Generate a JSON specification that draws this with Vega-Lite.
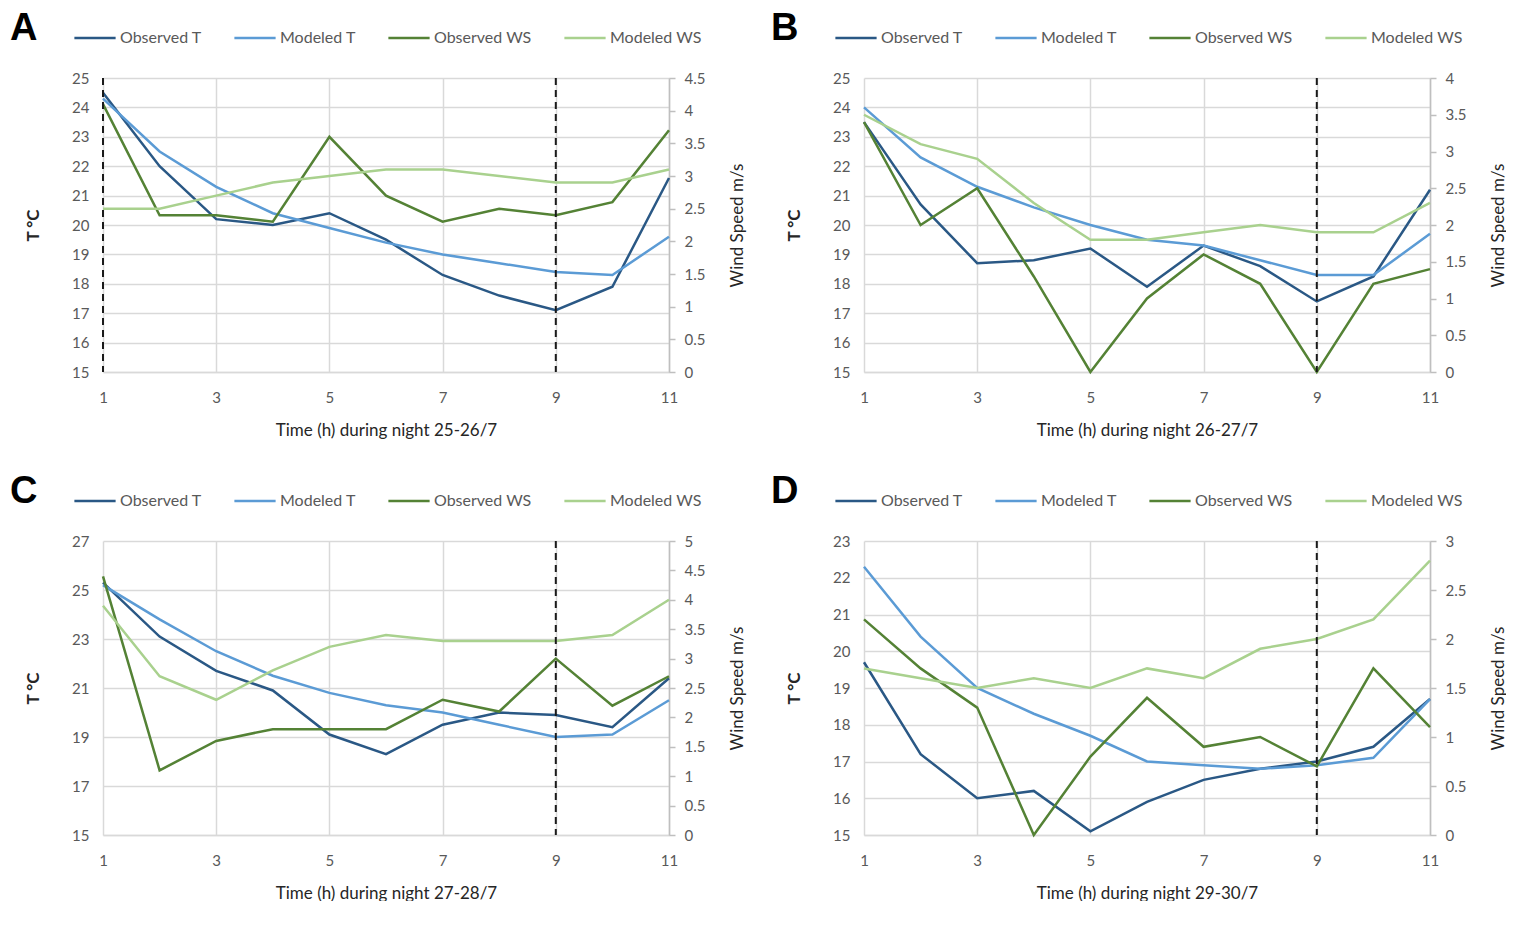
{
  "$schema": "https://vega.github.io/schema/vega-lite/v6.json",
  "padding": {"left": 10, "top": 10, "right": 0, "bottom": 0},
  "background": "white",
  "datasets": {
    "lines": [
      {"p":"A","s":"Observed T","h":1,"v":24.5},{"p":"A","s":"Observed T","h":2,"v":22.0},{"p":"A","s":"Observed T","h":3,"v":20.2},{"p":"A","s":"Observed T","h":4,"v":20.0},{"p":"A","s":"Observed T","h":5,"v":20.4},{"p":"A","s":"Observed T","h":6,"v":19.5},{"p":"A","s":"Observed T","h":7,"v":18.3},{"p":"A","s":"Observed T","h":8,"v":17.6},{"p":"A","s":"Observed T","h":9,"v":17.1},{"p":"A","s":"Observed T","h":10,"v":17.9},{"p":"A","s":"Observed T","h":11,"v":21.6},
      {"p":"A","s":"Modeled T","h":1,"v":24.3},{"p":"A","s":"Modeled T","h":2,"v":22.5},{"p":"A","s":"Modeled T","h":3,"v":21.3},{"p":"A","s":"Modeled T","h":4,"v":20.4},{"p":"A","s":"Modeled T","h":5,"v":19.9},{"p":"A","s":"Modeled T","h":6,"v":19.4},{"p":"A","s":"Modeled T","h":7,"v":19.0},{"p":"A","s":"Modeled T","h":8,"v":18.7},{"p":"A","s":"Modeled T","h":9,"v":18.4},{"p":"A","s":"Modeled T","h":10,"v":18.3},{"p":"A","s":"Modeled T","h":11,"v":19.6},
      {"p":"A","s":"Observed WS","h":1,"v":4.1},{"p":"A","s":"Observed WS","h":2,"v":2.4},{"p":"A","s":"Observed WS","h":3,"v":2.4},{"p":"A","s":"Observed WS","h":4,"v":2.3},{"p":"A","s":"Observed WS","h":5,"v":3.6},{"p":"A","s":"Observed WS","h":6,"v":2.7},{"p":"A","s":"Observed WS","h":7,"v":2.3},{"p":"A","s":"Observed WS","h":8,"v":2.5},{"p":"A","s":"Observed WS","h":9,"v":2.4},{"p":"A","s":"Observed WS","h":10,"v":2.6},{"p":"A","s":"Observed WS","h":11,"v":3.7},
      {"p":"A","s":"Modeled WS","h":1,"v":2.5},{"p":"A","s":"Modeled WS","h":2,"v":2.5},{"p":"A","s":"Modeled WS","h":3,"v":2.7},{"p":"A","s":"Modeled WS","h":4,"v":2.9},{"p":"A","s":"Modeled WS","h":5,"v":3.0},{"p":"A","s":"Modeled WS","h":6,"v":3.1},{"p":"A","s":"Modeled WS","h":7,"v":3.1},{"p":"A","s":"Modeled WS","h":8,"v":3.0},{"p":"A","s":"Modeled WS","h":9,"v":2.9},{"p":"A","s":"Modeled WS","h":10,"v":2.9},{"p":"A","s":"Modeled WS","h":11,"v":3.1},
      {"p":"B","s":"Observed T","h":1,"v":23.5},{"p":"B","s":"Observed T","h":2,"v":20.7},{"p":"B","s":"Observed T","h":3,"v":18.7},{"p":"B","s":"Observed T","h":4,"v":18.8},{"p":"B","s":"Observed T","h":5,"v":19.2},{"p":"B","s":"Observed T","h":6,"v":17.9},{"p":"B","s":"Observed T","h":7,"v":19.3},{"p":"B","s":"Observed T","h":8,"v":18.6},{"p":"B","s":"Observed T","h":9,"v":17.4},{"p":"B","s":"Observed T","h":10,"v":18.25},{"p":"B","s":"Observed T","h":11,"v":21.2},
      {"p":"B","s":"Modeled T","h":1,"v":24.0},{"p":"B","s":"Modeled T","h":2,"v":22.3},{"p":"B","s":"Modeled T","h":3,"v":21.3},{"p":"B","s":"Modeled T","h":4,"v":20.6},{"p":"B","s":"Modeled T","h":5,"v":20.0},{"p":"B","s":"Modeled T","h":6,"v":19.5},{"p":"B","s":"Modeled T","h":7,"v":19.3},{"p":"B","s":"Modeled T","h":8,"v":18.8},{"p":"B","s":"Modeled T","h":9,"v":18.3},{"p":"B","s":"Modeled T","h":10,"v":18.3},{"p":"B","s":"Modeled T","h":11,"v":19.7},
      {"p":"B","s":"Observed WS","h":1,"v":3.4},{"p":"B","s":"Observed WS","h":2,"v":2.0},{"p":"B","s":"Observed WS","h":3,"v":2.5},{"p":"B","s":"Observed WS","h":4,"v":1.3},{"p":"B","s":"Observed WS","h":5,"v":0.0},{"p":"B","s":"Observed WS","h":6,"v":1.0},{"p":"B","s":"Observed WS","h":7,"v":1.6},{"p":"B","s":"Observed WS","h":8,"v":1.2},{"p":"B","s":"Observed WS","h":9,"v":0.0},{"p":"B","s":"Observed WS","h":10,"v":1.2},{"p":"B","s":"Observed WS","h":11,"v":1.4},
      {"p":"B","s":"Modeled WS","h":1,"v":3.5},{"p":"B","s":"Modeled WS","h":2,"v":3.1},{"p":"B","s":"Modeled WS","h":3,"v":2.9},{"p":"B","s":"Modeled WS","h":4,"v":2.3},{"p":"B","s":"Modeled WS","h":5,"v":1.8},{"p":"B","s":"Modeled WS","h":6,"v":1.8},{"p":"B","s":"Modeled WS","h":7,"v":1.9},{"p":"B","s":"Modeled WS","h":8,"v":2.0},{"p":"B","s":"Modeled WS","h":9,"v":1.9},{"p":"B","s":"Modeled WS","h":10,"v":1.9},{"p":"B","s":"Modeled WS","h":11,"v":2.3},
      {"p":"C","s":"Observed T","h":1,"v":25.3},{"p":"C","s":"Observed T","h":2,"v":23.1},{"p":"C","s":"Observed T","h":3,"v":21.7},{"p":"C","s":"Observed T","h":4,"v":20.9},{"p":"C","s":"Observed T","h":5,"v":19.1},{"p":"C","s":"Observed T","h":6,"v":18.3},{"p":"C","s":"Observed T","h":7,"v":19.5},{"p":"C","s":"Observed T","h":8,"v":20.0},{"p":"C","s":"Observed T","h":9,"v":19.9},{"p":"C","s":"Observed T","h":10,"v":19.4},{"p":"C","s":"Observed T","h":11,"v":21.4},
      {"p":"C","s":"Modeled T","h":1,"v":25.2},{"p":"C","s":"Modeled T","h":2,"v":23.8},{"p":"C","s":"Modeled T","h":3,"v":22.5},{"p":"C","s":"Modeled T","h":4,"v":21.5},{"p":"C","s":"Modeled T","h":5,"v":20.8},{"p":"C","s":"Modeled T","h":6,"v":20.3},{"p":"C","s":"Modeled T","h":7,"v":20.0},{"p":"C","s":"Modeled T","h":8,"v":19.5},{"p":"C","s":"Modeled T","h":9,"v":19.0},{"p":"C","s":"Modeled T","h":10,"v":19.1},{"p":"C","s":"Modeled T","h":11,"v":20.5},
      {"p":"C","s":"Observed WS","h":1,"v":4.4},{"p":"C","s":"Observed WS","h":2,"v":1.1},{"p":"C","s":"Observed WS","h":3,"v":1.6},{"p":"C","s":"Observed WS","h":4,"v":1.8},{"p":"C","s":"Observed WS","h":5,"v":1.8},{"p":"C","s":"Observed WS","h":6,"v":1.8},{"p":"C","s":"Observed WS","h":7,"v":2.3},{"p":"C","s":"Observed WS","h":8,"v":2.1},{"p":"C","s":"Observed WS","h":9,"v":3.0},{"p":"C","s":"Observed WS","h":10,"v":2.2},{"p":"C","s":"Observed WS","h":11,"v":2.7},
      {"p":"C","s":"Modeled WS","h":1,"v":3.9},{"p":"C","s":"Modeled WS","h":2,"v":2.7},{"p":"C","s":"Modeled WS","h":3,"v":2.3},{"p":"C","s":"Modeled WS","h":4,"v":2.8},{"p":"C","s":"Modeled WS","h":5,"v":3.2},{"p":"C","s":"Modeled WS","h":6,"v":3.4},{"p":"C","s":"Modeled WS","h":7,"v":3.3},{"p":"C","s":"Modeled WS","h":8,"v":3.3},{"p":"C","s":"Modeled WS","h":9,"v":3.3},{"p":"C","s":"Modeled WS","h":10,"v":3.4},{"p":"C","s":"Modeled WS","h":11,"v":4.0},
      {"p":"D","s":"Observed T","h":1,"v":19.7},{"p":"D","s":"Observed T","h":2,"v":17.2},{"p":"D","s":"Observed T","h":3,"v":16.0},{"p":"D","s":"Observed T","h":4,"v":16.2},{"p":"D","s":"Observed T","h":5,"v":15.1},{"p":"D","s":"Observed T","h":6,"v":15.9},{"p":"D","s":"Observed T","h":7,"v":16.5},{"p":"D","s":"Observed T","h":8,"v":16.8},{"p":"D","s":"Observed T","h":9,"v":17.0},{"p":"D","s":"Observed T","h":10,"v":17.4},{"p":"D","s":"Observed T","h":11,"v":18.7},
      {"p":"D","s":"Modeled T","h":1,"v":22.3},{"p":"D","s":"Modeled T","h":2,"v":20.4},{"p":"D","s":"Modeled T","h":3,"v":19.0},{"p":"D","s":"Modeled T","h":4,"v":18.3},{"p":"D","s":"Modeled T","h":5,"v":17.7},{"p":"D","s":"Modeled T","h":6,"v":17.0},{"p":"D","s":"Modeled T","h":7,"v":16.9},{"p":"D","s":"Modeled T","h":8,"v":16.8},{"p":"D","s":"Modeled T","h":9,"v":16.9},{"p":"D","s":"Modeled T","h":10,"v":17.1},{"p":"D","s":"Modeled T","h":11,"v":18.7},
      {"p":"D","s":"Observed WS","h":1,"v":2.2},{"p":"D","s":"Observed WS","h":2,"v":1.7},{"p":"D","s":"Observed WS","h":3,"v":1.3},{"p":"D","s":"Observed WS","h":4,"v":0.0},{"p":"D","s":"Observed WS","h":5,"v":0.8},{"p":"D","s":"Observed WS","h":6,"v":1.4},{"p":"D","s":"Observed WS","h":7,"v":0.9},{"p":"D","s":"Observed WS","h":8,"v":1.0},{"p":"D","s":"Observed WS","h":9,"v":0.7},{"p":"D","s":"Observed WS","h":10,"v":1.7},{"p":"D","s":"Observed WS","h":11,"v":1.1},
      {"p":"D","s":"Modeled WS","h":1,"v":1.7},{"p":"D","s":"Modeled WS","h":2,"v":1.6},{"p":"D","s":"Modeled WS","h":3,"v":1.5},{"p":"D","s":"Modeled WS","h":4,"v":1.6},{"p":"D","s":"Modeled WS","h":5,"v":1.5},{"p":"D","s":"Modeled WS","h":6,"v":1.7},{"p":"D","s":"Modeled WS","h":7,"v":1.6},{"p":"D","s":"Modeled WS","h":8,"v":1.9},{"p":"D","s":"Modeled WS","h":9,"v":2.0},{"p":"D","s":"Modeled WS","h":10,"v":2.2},{"p":"D","s":"Modeled WS","h":11,"v":2.8}
    ],
    "rules": [
      {"p":"A","h":1},{"p":"A","h":9},{"p":"B","h":9},{"p":"C","h":9},{"p":"D","h":9}
    ]
  },
  "concat": [
    {
      "width": 566, "height": 294,
      "title": {"text": "A"},
      "layer": [
        {"data": {"name": "lines"},
         "transform": [{"filter": "datum.p == 'A' && (datum.s == 'Observed T' || datum.s == 'Modeled T')"}],
         "mark": {"type": "line", "strokeWidth": 2.5},
         "encoding": {
           "x": {"field": "h", "type": "quantitative", "scale": {"domain": [1, 11], "nice": false}, "axis": {"values": [1,3,5,7,9,11], "title": "Time (h) during night 25-26/7"}},
           "y": {"field": "v", "type": "quantitative", "scale": {"domain": [15, 25], "nice": false, "zero": false}, "axis": {"orient": "left", "values": [15,16,17,18,19,20,21,22,23,24,25], "title": "T °C"}},
           "color": {"field": "s", "type": "nominal", "scale": {"domain": ["Observed T","Modeled T","Observed WS","Modeled WS"], "range": ["#2A5885","#5B9BD5","#548235","#A9D18E"]}, "legend": {"title": null}}
         }},
        {"data": {"name": "lines"},
         "transform": [{"filter": "datum.p == 'A' && (datum.s == 'Observed WS' || datum.s == 'Modeled WS')"}],
         "mark": {"type": "line", "strokeWidth": 2.5},
         "encoding": {
           "x": {"field": "h", "type": "quantitative"},
           "y": {"field": "v", "type": "quantitative", "scale": {"domain": [0, 4.5], "nice": false}, "axis": {"orient": "right", "values": [0,0.5,1,1.5,2,2.5,3,3.5,4,4.5], "title": "Wind Speed m/s"}},
           "color": {"field": "s", "type": "nominal"}
         }},
        {"data": {"name": "rules"},
         "transform": [{"filter": "datum.p == 'A'"}],
         "mark": {"type": "rule", "color": "#1a1a1a", "strokeWidth": 2, "strokeDash": [7, 5]},
         "encoding": {"x": {"field": "h", "type": "quantitative"}}}
      ],
      "resolve": {"scale": {"y": "independent"}}
    },
    {
      "width": 566, "height": 294,
      "title": {"text": "B"},
      "layer": [
        {"data": {"name": "lines"},
         "transform": [{"filter": "datum.p == 'B' && (datum.s == 'Observed T' || datum.s == 'Modeled T')"}],
         "mark": {"type": "line", "strokeWidth": 2.5},
         "encoding": {
           "x": {"field": "h", "type": "quantitative", "scale": {"domain": [1, 11], "nice": false}, "axis": {"values": [1,3,5,7,9,11], "title": "Time (h) during night 26-27/7"}},
           "y": {"field": "v", "type": "quantitative", "scale": {"domain": [15, 25], "nice": false, "zero": false}, "axis": {"orient": "left", "values": [15,16,17,18,19,20,21,22,23,24,25], "title": "T °C"}},
           "color": {"field": "s", "type": "nominal", "scale": {"domain": ["Observed T","Modeled T","Observed WS","Modeled WS"], "range": ["#2A5885","#5B9BD5","#548235","#A9D18E"]}, "legend": {"title": null}}
         }},
        {"data": {"name": "lines"},
         "transform": [{"filter": "datum.p == 'B' && (datum.s == 'Observed WS' || datum.s == 'Modeled WS')"}],
         "mark": {"type": "line", "strokeWidth": 2.5},
         "encoding": {
           "x": {"field": "h", "type": "quantitative"},
           "y": {"field": "v", "type": "quantitative", "scale": {"domain": [0, 4], "nice": false}, "axis": {"orient": "right", "values": [0,0.5,1,1.5,2,2.5,3,3.5,4], "title": "Wind Speed m/s"}},
           "color": {"field": "s", "type": "nominal"}
         }},
        {"data": {"name": "rules"},
         "transform": [{"filter": "datum.p == 'B'"}],
         "mark": {"type": "rule", "color": "#1a1a1a", "strokeWidth": 2, "strokeDash": [7, 5]},
         "encoding": {"x": {"field": "h", "type": "quantitative"}}}
      ],
      "resolve": {"scale": {"y": "independent"}}
    },
    {
      "width": 566, "height": 294,
      "title": {"text": "C"},
      "layer": [
        {"data": {"name": "lines"},
         "transform": [{"filter": "datum.p == 'C' && (datum.s == 'Observed T' || datum.s == 'Modeled T')"}],
         "mark": {"type": "line", "strokeWidth": 2.5},
         "encoding": {
           "x": {"field": "h", "type": "quantitative", "scale": {"domain": [1, 11], "nice": false}, "axis": {"values": [1,3,5,7,9,11], "title": "Time (h) during night 27-28/7"}},
           "y": {"field": "v", "type": "quantitative", "scale": {"domain": [15, 27], "nice": false, "zero": false}, "axis": {"orient": "left", "values": [15,17,19,21,23,25,27], "title": "T °C"}},
           "color": {"field": "s", "type": "nominal", "scale": {"domain": ["Observed T","Modeled T","Observed WS","Modeled WS"], "range": ["#2A5885","#5B9BD5","#548235","#A9D18E"]}, "legend": {"title": null}}
         }},
        {"data": {"name": "lines"},
         "transform": [{"filter": "datum.p == 'C' && (datum.s == 'Observed WS' || datum.s == 'Modeled WS')"}],
         "mark": {"type": "line", "strokeWidth": 2.5},
         "encoding": {
           "x": {"field": "h", "type": "quantitative"},
           "y": {"field": "v", "type": "quantitative", "scale": {"domain": [0, 5], "nice": false}, "axis": {"orient": "right", "values": [0,0.5,1,1.5,2,2.5,3,3.5,4,4.5,5], "title": "Wind Speed m/s"}},
           "color": {"field": "s", "type": "nominal"}
         }},
        {"data": {"name": "rules"},
         "transform": [{"filter": "datum.p == 'C'"}],
         "mark": {"type": "rule", "color": "#1a1a1a", "strokeWidth": 2, "strokeDash": [7, 5]},
         "encoding": {"x": {"field": "h", "type": "quantitative"}}}
      ],
      "resolve": {"scale": {"y": "independent"}}
    },
    {
      "width": 566, "height": 294,
      "title": {"text": "D"},
      "layer": [
        {"data": {"name": "lines"},
         "transform": [{"filter": "datum.p == 'D' && (datum.s == 'Observed T' || datum.s == 'Modeled T')"}],
         "mark": {"type": "line", "strokeWidth": 2.5},
         "encoding": {
           "x": {"field": "h", "type": "quantitative", "scale": {"domain": [1, 11], "nice": false}, "axis": {"values": [1,3,5,7,9,11], "title": "Time (h) during night 29-30/7"}},
           "y": {"field": "v", "type": "quantitative", "scale": {"domain": [15, 23], "nice": false, "zero": false}, "axis": {"orient": "left", "values": [15,16,17,18,19,20,21,22,23], "title": "T °C"}},
           "color": {"field": "s", "type": "nominal", "scale": {"domain": ["Observed T","Modeled T","Observed WS","Modeled WS"], "range": ["#2A5885","#5B9BD5","#548235","#A9D18E"]}, "legend": {"title": null}}
         }},
        {"data": {"name": "lines"},
         "transform": [{"filter": "datum.p == 'D' && (datum.s == 'Observed WS' || datum.s == 'Modeled WS')"}],
         "mark": {"type": "line", "strokeWidth": 2.5},
         "encoding": {
           "x": {"field": "h", "type": "quantitative"},
           "y": {"field": "v", "type": "quantitative", "scale": {"domain": [0, 3], "nice": false}, "axis": {"orient": "right", "values": [0,0.5,1,1.5,2,2.5,3], "title": "Wind Speed m/s"}},
           "color": {"field": "s", "type": "nominal"}
         }},
        {"data": {"name": "rules"},
         "transform": [{"filter": "datum.p == 'D'"}],
         "mark": {"type": "rule", "color": "#1a1a1a", "strokeWidth": 2, "strokeDash": [7, 5]},
         "encoding": {"x": {"field": "h", "type": "quantitative"}}}
      ],
      "resolve": {"scale": {"y": "independent"}}
    }
  ],
  "columns": 2,
  "spacing": {"row": 35, "column": 26},
  "resolve": {"scale": {"color": "independent"}, "legend": {"color": "independent"}},
  "config": {
    "view": {"stroke": null},
    "font": "Lato",
    "title": {"anchor": "start", "frame": "group", "dx": -93, "dy": 36, "offset": 0, "fontSize": 38, "font": "Liberation Sans", "fontWeight": "bold", "color": "#000000"},
    "axis": {"labelFont": "Lato", "labelFontSize": 15, "labelColor": "#595959", "titleFont": "Lato", "titleFontSize": 17, "titleFontWeight": "normal", "titleColor": "#262626", "gridColor": "#d9d9d9", "gridWidth": 1.5, "domainColor": "#bfbfbf", "domainWidth": 1.5, "tickColor": "#bfbfbf", "tickWidth": 1.5, "format": "~g"},
    "axisX": {"ticks": false, "grid": true, "domainColor": "#d9d9d9", "labelPadding": 18, "titlePadding": 17, "labelFlush": false},
    "axisLeft": {"ticks": false, "grid": true, "domain": false, "labelPadding": 14, "titleFontWeight": "bold", "titleFontSize": 17, "titlePadding": 31, "minExtent": 30, "maxExtent": 30},
    "axisRight": {"grid": false, "ticks": true, "tickSize": 6, "labelPadding": 9, "titlePadding": 18, "titleAngle": 270, "titleBaseline": "top", "minExtent": 42, "maxExtent": 42},
    "legend": {"orient": "none", "legendX": -30, "legendY": -62, "direction": "horizontal", "symbolType": "stroke", "symbolStrokeWidth": 2.5, "symbolSize": 1700, "labelFont": "Lato", "labelFontSize": 16, "labelColor": "#595959", "labelOffset": 3, "columnPadding": 27}
  }
}
